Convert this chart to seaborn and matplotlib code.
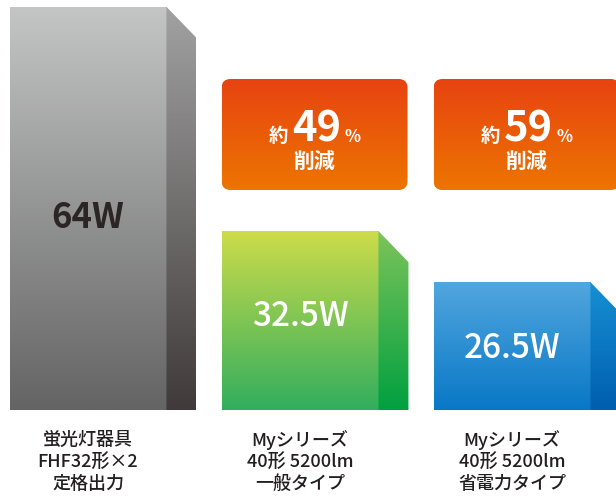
import numpy as np
import pandas as pd
import matplotlib
matplotlib.use("Agg")
import matplotlib.pyplot as plt
import seaborn as sns
from matplotlib.patches import Polygon, FancyBboxPatch
from matplotlib.colors import to_rgba

# ---- data ----
categories = ["蛍光灯器具\nFHF32形×2\n定格出力",
              "Myシリーズ\n40形 5200lm\n一般タイプ",
              "Myシリーズ\n40形 5200lm\n省電力タイプ"]
watts = [64, 32.5, 26.5]
value_labels = ["64W", "32.5W", "26.5W"]
drawn_heights = [64, 28.4, 20.3]          # heights as drawn in the picture (W scale)
reductions = [None, "49", "59"]

front_colors = [("#c4c5c5", "#646464"), ("#cddc4a", "#32ae5e"), ("#52a6de", "#0878c6")]
side_colors = [("#a2a2a2", "#403a3a"), ("#7cc45a", "#00a040"), ("#1690d4", "#005eaf")]
value_colors = ["#2b2525", "white", "white"]
box_colors = ("#e74311", "#ed7500")

sns.set_theme(style="white")
plt.rcParams["font.family"] = ["Noto Sans CJK JP", "DejaVu Sans"]

W, H = 616, 500
fig = plt.figure(figsize=(W / 100, H / 100), dpi=100)
ax = fig.add_axes([0, 0, 1, 1])

df = pd.DataFrame({"cat": categories, "h": drawn_heights})
sns.barplot(data=df, x="cat", y="h", ax=ax, width=0.74, color="#999999",
            saturation=1, errorbar=None)

UNIT = 212.0   # px per category
PXW = 6.3      # px per W
XL = (-88 / UNIT, (W - 88) / UNIT)
YL = (-90 / PXW, (H - 90) / PXW)
ax.set_xlim(*XL)
ax.set_ylim(*YL)
ax.axis("off")


def grad(c_top, c_bot, n=256):
    a = np.array(to_rgba(c_top))
    b = np.array(to_rgba(c_bot))
    t = np.linspace(0, 1, n)[:, None]
    return (a * (1 - t) + b * t)[:, None, :]


dx = 30 / UNIT
dy = 31 / PXW
for i, p in enumerate(ax.patches):
    x0, w, top = p.get_x(), p.get_width(), p.get_height()
    x1 = x0 + w
    p.set_facecolor("none")
    p.set_edgecolor("none")
    im = ax.imshow(grad(*front_colors[i]), extent=[x0, x1, 0, top],
                   aspect="auto", origin="upper", zorder=2)
    im.set_clip_path(p)
    side = Polygon([(x1, 0), (x1 + dx, 0), (x1 + dx, top - dy), (x1, top)],
                   closed=True, facecolor="none", edgecolor="none")
    ax.add_patch(side)
    im2 = ax.imshow(grad(*side_colors[i]), extent=[x1, x1 + dx, 0, top],
                    aspect="auto", origin="upper", zorder=2)
    im2.set_clip_path(side)

ax.set_xlim(*XL)
ax.set_ylim(*YL)

# ---- overlay in pixel coordinates ----
ov = fig.add_axes([0, 0, 1, 1])
ov.set_xlim(0, W)
ov.set_ylim(H, 0)
ov.axis("off")
ov.patch.set_alpha(0)
renderer = fig.canvas.get_renderer()


def px(x, y):
    d = ax.transData.transform((x, y))
    return d[0], H - d[1]


value_y = [218, 317, 348]
value_sizes = [25, 24, 24]
for i, p in enumerate(ax.patches[:3]):
    cx = p.get_x() + p.get_width() / 2
    xc, _ = px(cx, 0)
    # value label inside bar
    ov.text(xc, value_y[i], value_labels[i], ha="center", va="center",
            fontsize=value_sizes[i], fontweight="bold" if i == 0 else "medium",
            color=value_colors[i], zorder=3)
    # category labels
    for j, line in enumerate(categories[i].split("\n")):
        ov.text(xc, 440 + 22 * j, line, ha="center", va="center",
                fontsize=13, color="#231f20", fontweight="medium")
    # reduction box
    if reductions[i]:
        left, _ = px(p.get_x(), 0)
        bw, by0, by1 = 186, 79, 190
        box = FancyBboxPatch((left, by0), bw, by1 - by0,
                             boxstyle="round,pad=0,rounding_size=9",
                             facecolor="none", edgecolor="none")
        ov.add_patch(box)
        im3 = ov.imshow(grad(*box_colors), extent=[left, left + bw, by1, by0],
                        aspect="auto", origin="upper", zorder=2)
        im3.set_clip_path(box)
        bcx = left + bw / 2 + 2
        base = 142
        t = ov.text(bcx, base, reductions[i], ha="center", va="baseline",
                    fontsize=30, fontweight="bold", color="white", zorder=3)
        bb = t.get_window_extent(renderer)
        ov.text(bb.x0 - 4, base, "約", ha="right", va="baseline",
                fontsize=14, fontweight="bold", color="white", zorder=3)
        ov.text(bb.x1 + 3, base, "%", ha="left", va="baseline",
                fontsize=12, fontweight="bold", color="white", zorder=3)
        ov.text(bcx - 2, 161, "削減", ha="center", va="center",
                fontsize=15, fontweight="bold", color="white", zorder=3)

ov.set_xlim(0, W)
ov.set_ylim(H, 0)

fig.savefig("out.png", dpi=100)
